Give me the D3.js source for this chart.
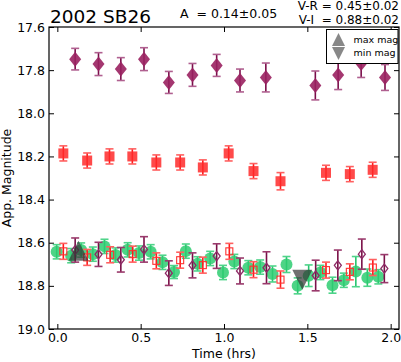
<!DOCTYPE html>
<html>
<head>
<meta charset="utf-8">
<script src="https://cdn.jsdelivr.net/npm/d3@7"></script>
<style>
body { margin: 0; background: #fff; }
text { font-family: 'DejaVu Sans', sans-serif; }
</style>
</head>
<body>
<div id="chart"></div>
<script>
// R band, filled diamonds (shifted up)
var rTime = [0.107, 0.247, 0.381, 0.52, 0.669, 0.811, 0.956, 1.096, 1.251, 1.548, 1.685, 1.823, 1.966];
var rMag = [17.749, 17.772, 17.795, 17.749, 17.857, 17.822, 17.778, 17.848, 17.834, 17.871, 17.822, 17.769, 17.834];
var rErr = [0.05, 0.053, 0.053, 0.053, 0.051, 0.053, 0.051, 0.053, 0.067, 0.067, 0.068, 0.065, 0.06];

// V band, filled squares (shifted)
var vTime = [0.036, 0.179, 0.313, 0.45, 0.594, 0.737, 0.873, 1.028, 1.177, 1.339, 1.612, 1.755, 1.892];
var vMag = [18.186, 18.219, 18.2, 18.2, 18.228, 18.228, 18.251, 18.186, 18.268, 18.315, 18.276, 18.282, 18.262];
var vErr = [0.035, 0.035, 0.035, 0.035, 0.035, 0.035, 0.035, 0.035, 0.035, 0.04, 0.035, 0.035, 0.035];

// combined, green circles
var gTime = [-0.004, 0.083, 0.143, 0.213, 0.283, 0.349, 0.422, 0.49, 0.56, 0.631, 0.7, 0.771, 0.841, 0.917, 0.994,
    1.062, 1.146, 1.217, 1.291, 1.375, 1.442, 1.508, 1.578, 1.651, 1.719, 1.791, 1.86, 1.926];
var gMag = [18.642, 18.66, 18.634, 18.653, 18.617, 18.657, 18.633, 18.648, 18.642, 18.691, 18.736, 18.639, 18.698, 18.673, 18.738,
    18.687, 18.716, 18.713, 18.745, 18.701, 18.8, 18.753, 18.738, 18.797, 18.774, 18.734, 18.762, 18.758];
var gErr = [0.033, 0.033, 0.033, 0.033, 0.033, 0.033, 0.033, 0.033, 0.033, 0.033, 0.03, 0.033, 0.033, 0.033, 0.033,
    0.033, 0.033, 0.033, 0.037, 0.037, 0.037, 0.05, 0.033, 0.037, 0.033, 0.07, 0.04, 0.033];

// V band, open squares
var ovTime = [0.036, 0.179, 0.317, 0.452, 0.594, 0.737, 0.873, 1.032, 1.177, 1.339, 1.612, 1.755, 1.893];
var ovMag = [18.64, 18.668, 18.656, 18.653, 18.684, 18.681, 18.704, 18.64, 18.725, 18.771, 18.727, 18.735, 18.715];
var ovErr = [0.037, 0.037, 0.037, 0.037, 0.037, 0.037, 0.037, 0.037, 0.037, 0.04, 0.037, 0.037, 0.037];

// R band, open diamonds
var orTime = [0.107, 0.247, 0.381, 0.52, 0.669, 0.811, 0.956, 1.096, 1.255, 1.55, 1.683, 1.827, 1.962];
var orMag = [18.634, 18.654, 18.679, 18.631, 18.741, 18.705, 18.662, 18.731, 18.716, 18.752, 18.705, 18.653, 18.72];
var orErr = [0.056, 0.056, 0.057, 0.059, 0.057, 0.058, 0.057, 0.06, 0.074, 0.071, 0.071, 0.07, 0.065];

// extremes
var maxTime = [0.127];
var maxMag = [18.637];
var minTime = [1.47];
var minMag = [18.772];

var xTicks = [0.0, 0.5, 1.0, 1.5, 2.0];
var yTicks = [17.6, 17.8, 18.0, 18.2, 18.4, 18.6, 18.8, 19.0];

var W = 401, H = 362;
var margin = { top: 27, bottom: 33, left: 49, right: 2 };

var svg = d3.select('#chart')
    .append('svg')
    .attr('width', W)
    .attr('height', H);

var x = d3.scaleLinear().domain([-0.05, 2.05]).range([margin.left, W - margin.right]);
var y = d3.scaleLinear().domain([17.6, 19.0]).range([margin.top, H - margin.bottom]);

var fmt = d3.format('.1f');

// axes, ticks inside
svg.append('g')
    .attr('transform', 'translate(0,' + (H - margin.bottom) + ')')
    .call(d3.axisBottom(x).tickValues(xTicks).tickFormat(fmt).tickSizeInner(-5).tickSizeOuter(0).tickPadding(4))
    .call(g => g.select('.domain').remove())
    .selectAll('text').attr('font-size', 12.5).attr('fill', '#000').style('font-family', 'DejaVu Sans');
svg.append('g')
    .attr('transform', 'translate(0,' + margin.top + ')')
    .call(d3.axisTop(x).tickValues(xTicks).tickFormat('').tickSizeInner(-5).tickSizeOuter(0))
    .call(g => g.select('.domain').remove());
svg.append('g')
    .attr('transform', 'translate(' + margin.left + ',0)')
    .call(d3.axisLeft(y).tickValues(yTicks).tickFormat(fmt).tickSizeInner(-5).tickSizeOuter(0).tickPadding(4))
    .call(g => g.select('.domain').remove())
    .selectAll('text').attr('font-size', 12.5).attr('fill', '#000').style('font-family', 'DejaVu Sans');
svg.append('g')
    .attr('transform', 'translate(' + (W - margin.right) + ',0)')
    .call(d3.axisRight(y).tickValues(yTicks).tickFormat('').tickSizeInner(-5).tickSizeOuter(0))
    .call(g => g.select('.domain').remove());

function errorBars(times, mags, errs, color, capColor) {
    var g = svg.append('g');
    var idx = d3.range(times.length);
    g.selectAll('line.v').data(idx).enter().append('line')
        .attr('x1', i => x(times[i])).attr('x2', i => x(times[i]))
        .attr('y1', i => y(mags[i] - errs[i])).attr('y2', i => y(mags[i] + errs[i]))
        .attr('stroke', color).attr('stroke-width', 1.6);
    [-1, 1].forEach(function(s) {
        g.selectAll('line.c' + s).data(idx).enter().append('line')
            .attr('x1', i => x(times[i]) - 4).attr('x2', i => x(times[i]) + 4)
            .attr('y1', i => y(mags[i] + s * errs[i])).attr('y2', i => y(mags[i] + s * errs[i]))
            .attr('stroke', capColor).attr('stroke-width', 1.6);
    });
}

// green circles
errorBars(gTime, gMag, gErr, '#27c46e', '#4fd48a');
svg.append('g').selectAll('circle').data(d3.range(gTime.length)).enter().append('circle')
    .attr('cx', i => x(gTime[i])).attr('cy', i => y(gMag[i])).attr('r', 6)
    .attr('fill', '#2ecc71').attr('opacity', 0.85);

// open red squares
errorBars(ovTime, ovMag, ovErr, '#ff1a1a', '#ff6060');
svg.append('g').selectAll('rect').data(d3.range(ovTime.length)).enter().append('rect')
    .attr('x', i => x(ovTime[i]) - 3.5).attr('y', i => y(ovMag[i]) - 3.5)
    .attr('width', 7).attr('height', 7)
    .attr('fill', 'none').attr('stroke', '#ff3030').attr('stroke-width', 1.1);

// open purple diamonds
errorBars(orTime, orMag, orErr, '#7a1048', '#9a3a6c');
svg.append('g').selectAll('path').data(d3.range(orTime.length)).enter().append('path')
    .attr('d', i => {
        var cx = x(orTime[i]), cy = y(orMag[i]);
        return 'M' + cx + ',' + (cy - 4.5) + 'L' + (cx + 3.5) + ',' + cy + 'L' + cx + ',' + (cy + 4.5) + 'L' + (cx - 3.5) + ',' + cy + 'Z';
    })
    .attr('fill', 'none').attr('stroke', '#8e2a66').attr('stroke-width', 1.3);

// filled red squares
errorBars(vTime, vMag, vErr, '#ff1a1a', '#ff6060');
svg.append('g').selectAll('rect').data(d3.range(vTime.length)).enter().append('rect')
    .attr('x', i => x(vTime[i]) - 5).attr('y', i => y(vMag[i]) - 5)
    .attr('width', 10).attr('height', 10)
    .attr('fill', '#ff2a2a').attr('opacity', 0.85);

// filled purple diamonds
errorBars(rTime, rMag, rErr, '#7a0e4a', '#b06090');
svg.append('g').selectAll('path').data(d3.range(rTime.length)).enter().append('path')
    .attr('d', i => {
        var cx = x(rTime[i]), cy = y(rMag[i]);
        return 'M' + cx + ',' + (cy - 7.5) + 'L' + (cx + 6) + ',' + cy + 'L' + cx + ',' + (cy + 7.5) + 'L' + (cx - 6) + ',' + cy + 'Z';
    })
    .attr('fill', '#9a2160').attr('opacity', 0.9);

// max / min triangles
function tri(cx, cy, up, s) {
    if (up) return 'M' + cx + ',' + (cy - s) + 'L' + (cx + s) + ',' + (cy + s) + 'L' + (cx - s) + ',' + (cy + s) + 'Z';
    return 'M' + cx + ',' + (cy + s) + 'L' + (cx + s) + ',' + (cy - s) + 'L' + (cx - s) + ',' + (cy - s) + 'Z';
}
svg.append('g').selectAll('path').data(d3.range(maxTime.length)).enter().append('path')
    .attr('d', i => tri(x(maxTime[i]), y(maxMag[i]), true, 10))
    .attr('fill', '#333').attr('opacity', 0.7);
svg.append('g').selectAll('path').data(d3.range(minTime.length)).enter().append('path')
    .attr('d', i => tri(x(minTime[i]), y(minMag[i]), false, 10))
    .attr('fill', '#333').attr('opacity', 0.7);

// frame
svg.append('rect')
    .attr('x', margin.left).attr('y', margin.top)
    .attr('width', W - margin.left - margin.right).attr('height', H - margin.top - margin.bottom)
    .attr('fill', 'none').attr('stroke', '#000').attr('stroke-width', 1.2);

// legend
var lg = svg.append('g').attr('transform', 'translate(326.5,29.5)');
lg.append('rect').attr('width', 71.5).attr('height', 34).attr('fill', '#fff').attr('stroke', '#000').attr('stroke-width', 1);
lg.append('path').attr('d', tri(12, 10, true, 6.5)).attr('fill', '#888');
lg.append('path').attr('d', tri(12, 24, false, 6.5)).attr('fill', '#888');
lg.append('text').attr('x', 27).attr('y', 13).attr('font-size', 9.5).text('max mag');
lg.append('text').attr('x', 27).attr('y', 26).attr('font-size', 9.5).text('min mag');

// titles
svg.append('text').attr('x', 50).attr('y', 22.5).attr('font-size', 18.5).text('2002 SB26');
svg.append('text').attr('x', 180).attr('y', 18).attr('font-size', 12.5).attr('xml:space', 'preserve').text('A  = 0.14\u00b10.05');
svg.append('text').attr('x', 399).attr('y', 9.5).attr('font-size', 12).attr('text-anchor', 'end').text('V-R = 0.45\u00b10.02');
svg.append('text').attr('x', 399).attr('y', 23.5).attr('font-size', 12).attr('text-anchor', 'end').attr('xml:space', 'preserve').text('V-I  = 0.88\u00b10.02');

// axis labels
svg.append('text')
    .attr('x', (margin.left + W - margin.right) / 2).attr('y', 358)
    .attr('text-anchor', 'middle').attr('font-size', 12.5).text('Time (hrs)');
svg.append('text')
    .attr('transform', 'translate(11,' + ((margin.top + H - margin.bottom) / 2) + ') rotate(-90)')
    .attr('text-anchor', 'middle').attr('font-size', 12.5).text('App. Magnitude');
</script>
</body>
</html>
